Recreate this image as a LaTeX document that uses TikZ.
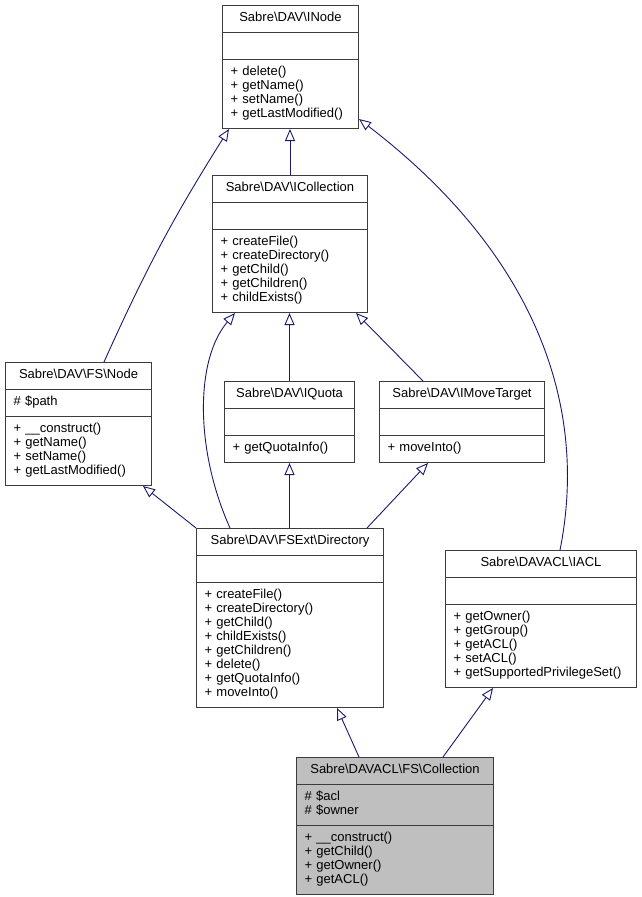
\documentclass[tikz,border=0pt]{standalone}
\usepackage{fontspec}
\setmainfont{Liberation Sans}
\usepackage{xcolor}
\usepackage{tikz}
\usetikzlibrary{arrows.meta,shapes.multipart,calc}
\definecolor{edgeblue}{RGB}{25,25,112}
\definecolor{boxline}{RGB}{60,60,60}
\definecolor{curfill}{RGB}{191,191,191}
\newcommand{\bs}{\textbackslash}
\newcommand{\clstitle}[1]{\makebox[\hsize]{\strut #1}}
\tikzstyle{cls}=[draw=boxline, line width=1pt, fill=white,
  rectangle split, rectangle split parts=3, anchor=north west,
  inner xsep=8pt, inner ysep=6pt, align=left,
  font=\fontsize{13}{14}\selectfont]
\tikzstyle{inherit}=[draw=edgeblue, line width=0.9pt,
  -{Triangle[open, length=12pt, width=10pt]}]

\begin{document}
\begin{tikzpicture}[x=1pt, y=-1pt]
  \useasboundingbox (0,0) rectangle (641,897);

  \node(inode)[cls, text width=120pt] at (222,5)
  {\clstitle{Sabre\bs DAV\bs INode}
   \nodepart{two}\strut
   \nodepart{three}\strut + delete()\\ + getName()\\ + setName()\\
   + getLastModified()\strut};

  \node(icoll)[cls, text width=139pt] at (212,175)
  {\clstitle{Sabre\bs DAV\bs ICollection}
   \nodepart{two}\strut
   \nodepart{three}\strut + createFile()\\ + createDirectory()\\
   + getChild()\\ + getChildren()\\ + childExists()\strut};

  \node(fsnode)[cls, text width=130pt] at (5,362)
  {\clstitle{Sabre\bs DAV\bs FS\bs Node}
   \nodepart{two}\strut \# \$path
   \nodepart{three}\strut + \_\_construct()\\ + getName()\\
   + setName()\\ + getLastModified()\strut};

  \node(iquota)[cls, text width=114pt] at (224,381)
  {\clstitle{Sabre\bs DAV\bs IQuota}
   \nodepart{two}\strut
   \nodepart{three}\strut + getQuotaInfo()};

  \node(imove)[cls, text width=149pt] at (379,381)
  {\clstitle{Sabre\bs DAV\bs IMoveTarget}
   \nodepart{two}\strut
   \nodepart{three}\strut + moveInto()};

  \node(dir)[cls, text width=171pt] at (196,528)
  {\clstitle{Sabre\bs DAV\bs FSExt\bs Directory}
   \nodepart{two}\strut
   \nodepart{three}\strut + createFile()\\ + createDirectory()\\
   + getChild()\\ + childExists()\\ + getChildren()\\ + delete()\\
   + getQuotaInfo()\\ + moveInto()\strut};

  \node(iacl)[cls, text width=175pt] at (445,550)
  {\clstitle{Sabre\bs DAVACL\bs IACL}
   \nodepart{two}\strut
   \nodepart{three}\strut + getOwner()\\ + getGroup()\\ + getACL()\\
   + setACL()\\ +~getSupportedPrivilegeSet()\strut};

  \node(coll)[cls, fill=curfill, text width=181pt] at (296,757)
  {\clstitle{Sabre\bs DAVACL\bs FS\bs Collection}
   \nodepart{two}\strut \# \$acl\\ \# \$owner\strut
   \nodepart{three}\strut + \_\_construct()\\ + getChild()\\
   + getOwner()\\ + getACL()\strut};

  % inheritance
  \draw[inherit] ([xshift=99pt]fsnode.north west)
  to[bend left=4] ([xshift=7pt]inode.south west);
  \draw[inherit] (icoll.north) -- (icoll.north |- inode.south);
  \draw[inherit] ([xshift=115pt]iacl.north west)
  .. controls (590,400) and (530,250) .. ([yshift=10pt]inode.south east);

  \draw[inherit] (iquota.north) -- (iquota.north |- icoll.south);
  \draw[inherit] ([xshift=44pt]imove.north west)
  -- ([xshift=-12pt]icoll.south east);

  \draw[inherit] ([xshift=34pt]dir.north west)
  .. controls (195,450) and (195,360) .. ([xshift=23pt]icoll.south west);
  \draw[inherit] (iquota.south |- dir.north) -- (iquota.south);
  \draw[inherit] ([xshift=-17pt]dir.north east)
  -- ([xshift=49pt]imove.south west);
  \draw[inherit] (dir.north west) -- ([xshift=-9pt]fsnode.south east);

  \draw[inherit] ([xshift=63pt]coll.north west)
  -- ([xshift=141pt]dir.south west);
  \draw[inherit] ([xshift=147pt]coll.north west)
  -- ([xshift=48pt]iacl.south west);
\end{tikzpicture}
\end{document}
